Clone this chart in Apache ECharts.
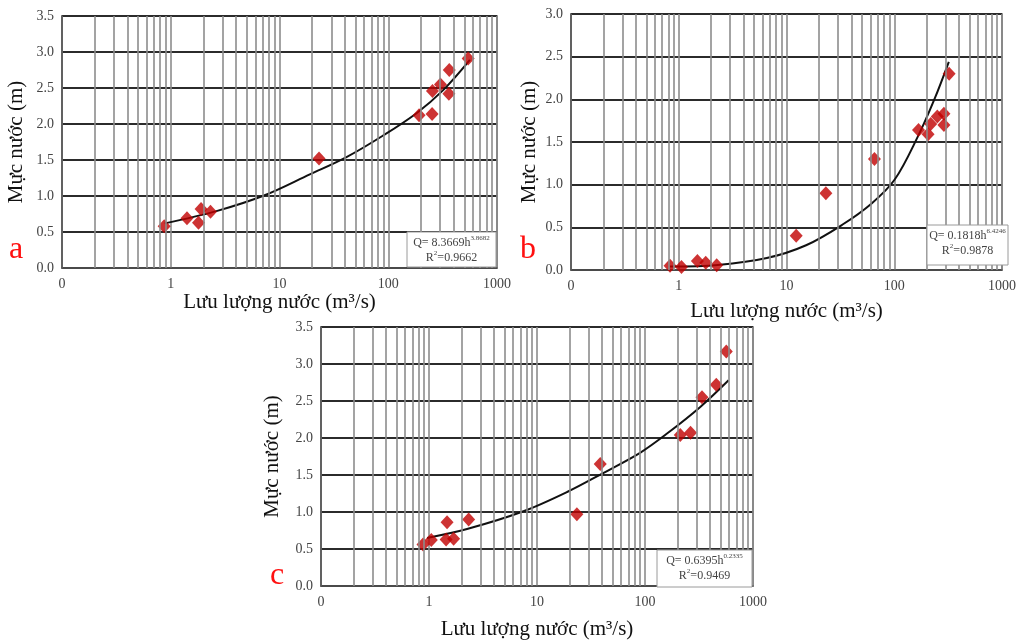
<!DOCTYPE html>
<html>
<head>
<meta charset="utf-8">
<script src="https://cdn.jsdelivr.net/npm/echarts@6/dist/echarts.min.js"></script>
<style>
  html, body { margin: 0; padding: 0; background: #ffffff; }
  #chart { width: 1019px; height: 641px; }
</style>
</head>
<body>
<div id="chart"></div>
<script>
// Rating curves: water level (m) against discharge (m3/s) at three stations

// Station a
const flowA  = [0.87, 1.41, 1.80, 1.90, 2.32, 23.1, 192, 253, 255, 302, 361, 364, 543];
const levelA = [0.58, 0.69, 0.63, 0.82, 0.78, 1.52, 2.12, 2.14, 2.46, 2.55, 2.42, 2.75, 2.91];
const fitFlowA  = [0.88, 2.63, 7.3, 19.0, 41.3, 89.8, 182, 320, 563];
const fitLevelA = [0.62, 0.79, 1.01, 1.30, 1.54, 1.84, 2.15, 2.47, 2.89];

// Station b
const flowB  = [0.83, 1.06, 1.49, 1.78, 2.25, 12.3, 23.2, 65.5, 168, 206, 218, 251, 289, 289, 323];
const levelB = [0.05, 0.035, 0.105, 0.086, 0.055, 0.40, 0.90, 1.30, 1.64, 1.59, 1.71, 1.80, 1.83, 1.70, 2.30];
const fitFlowB  = [0.83, 2.3, 6.57, 15.2, 32.9, 61.7, 101, 165, 234, 321];
const fitLevelB = [0.04, 0.06, 0.14, 0.29, 0.53, 0.78, 1.06, 1.56, 1.99, 2.44];

// Station c
const flowC  = [0.88, 1.05, 1.44, 1.47, 1.69, 2.33, 23.4, 38.5, 212, 264, 337, 457, 566];
const levelC = [0.56, 0.62, 0.63, 0.86, 0.64, 0.90, 0.97, 1.65, 2.04, 2.07, 2.55, 2.72, 3.17];
const fitFlowC  = [0.96, 2.25, 7.5, 19, 41.4, 90, 160, 325, 594];
const fitLevelC = [0.65, 0.77, 1.01, 1.27, 1.53, 1.80, 2.06, 2.42, 2.78];

// Fit statements shown in each panel
const fitTextA = { coef: '8.3669', exp: '3.8682', r2: '0.9662' };
const fitTextB = { coef: '0.1818', exp: '6.4246', r2: '0.9878' };
const fitTextC = { coef: '0.6395', exp: '0.2335', r2: '0.9469' };

// Log-axis minor grid values (2..9 within each decade)
const minorFlow = [];
[0.1, 1, 10, 100].forEach(d => { for (let k = 2; k <= 9; k++) minorFlow.push(+(d * k).toPrecision(3)); });

const xTitle = 'Lưu lượng nước (m³/s)';
const yTitle = 'Mực nước (m)';
const SERIF = '"Liberation Serif", "DejaVu Serif", serif';

const panels = [
  { flow: flowA, level: levelA, fitQ: fitFlowA, fitH: fitLevelA, yMax: 3.5,
    rect: { left: 62, top: 16, width: 435, height: 252 }, yGap: 35, xGap: 18 },
  { flow: flowB, level: levelB, fitQ: fitFlowB, fitH: fitLevelB, yMax: 3.0,
    rect: { left: 571, top: 14, width: 438, height: 256 }, yGap: 31, xGap: 31 },
  { flow: flowC, level: levelC, fitQ: fitFlowC, fitH: fitLevelC, yMax: 3.5,
    rect: { left: 321, top: 327, width: 432, height: 260 }, yGap: 38, xGap: 33 }
];

const grid = [], xAxis = [], yAxis = [], series = [];
panels.forEach((p, i) => {
  grid.push(Object.assign({ show: true, borderColor: '#555', borderWidth: 1.5, containLabel: false }, p.rect));
  xAxis.push({
    type: 'log', logBase: 10, min: 0.1, max: 1000, gridIndex: i,
    name: xTitle, nameLocation: 'middle', nameGap: p.xGap,
    nameTextStyle: { fontFamily: SERIF, fontSize: 21, color: '#111' },
    axisLine: { show: true, lineStyle: { color: '#555', width: 1.5 } },
    axisTick: { show: false },
    axisLabel: { fontFamily: SERIF, fontSize: 14, color: '#444', margin: 9,
      formatter: v => (v < 0.5 ? '0' : String(Math.round(v))) },
    splitLine: { show: true, lineStyle: { color: '#8c8c8c', width: 1.6 } }
  });
  yAxis.push({
    type: 'value', min: 0, max: p.yMax, interval: 0.5, gridIndex: i,
    name: yTitle, nameLocation: 'middle', nameGap: p.yGap, nameRotate: 90,
    nameTextStyle: { fontFamily: SERIF, fontSize: 21, color: '#111' },
    axisLine: { show: true, lineStyle: { color: '#555', width: 1.5 } },
    axisTick: { show: false },
    axisLabel: { fontFamily: SERIF, fontSize: 14, color: '#444', margin: 8,
      formatter: v => v.toFixed(1) },
    splitLine: { show: true, lineStyle: { color: '#2b2b2b', width: 2 } }
  });
  // minor vertical grid lines
  series.push({
    type: 'scatter', xAxisIndex: i, yAxisIndex: i, data: [], z: 1, silent: true,
    markLine: {
      silent: true, symbol: ['none', 'none'], animation: false,
      label: { show: false },
      lineStyle: { color: '#8c8c8c', width: 1.6, type: 'solid' },
      emphasis: { disabled: true },
      data: minorFlow.map(v => ({ xAxis: v }))
    }
  });
  // fitted curve
  series.push({
    type: 'line', xAxisIndex: i, yAxisIndex: i, z: 3, smooth: 0.35,
    showSymbol: false, symbol: 'none', silent: true,
    lineStyle: { color: '#111', width: 2 },
    data: p.fitQ.map((q, k) => [q, p.fitH[k]])
  });
  // observed values
  series.push({
    type: 'scatter', xAxisIndex: i, yAxisIndex: i, z: 4,
    symbol: 'diamond', symbolSize: [13, 14],
    itemStyle: { color: '#c00000' },
    data: p.flow.map((q, k) => [q, p.level[k]])
  });
});

function fitBox(x, y, w, h, t) {
  return [
    { type: 'rect', z: 100, zlevel: 1, shape: { x: x, y: y, width: w, height: h },
      style: { fill: '#ffffff', stroke: '#9a9a9a', lineWidth: 1 } },
    { type: 'text', z: 101, zlevel: 1, x: x + w / 2, y: y + 3,
      style: {
        text: '{n|Q= ' + t.coef + 'h}{s|' + t.exp + '}\n{n|R}{s|2}{n|=' + t.r2 + '}',
        align: 'center', verticalAlign: 'top',
        rich: {
          n: { fontFamily: SERIF, fontSize: 12, fill: '#444', lineHeight: 15 },
          s: { fontFamily: SERIF, fontSize: 7, fill: '#444', lineHeight: 15, verticalAlign: 'top', padding: [0, 0, 6, 0] }
        }
      } }
  ];
}

function panelLetter(x, y, s) {
  return { type: 'text', x: x, y: y, z: 100, zlevel: 1,
    style: { text: s, fontFamily: SERIF, fontSize: 32, fill: '#ff1010', align: 'center', verticalAlign: 'middle' } };
}

const chart = echarts.init(document.getElementById('chart'), null, { renderer: 'canvas' });
chart.setOption({
  backgroundColor: '#ffffff',
  animation: false,
  grid: grid, xAxis: xAxis, yAxis: yAxis, series: series,
  graphic: [].concat(
    fitBox(407, 232, 89, 35, fitTextA),
    fitBox(927, 225, 81, 40, fitTextB),
    fitBox(657, 550, 95, 37, fitTextC),
    [panelLetter(16, 250, 'a'), panelLetter(528, 250, 'b'), panelLetter(277, 576, 'c')]
  )
});
</script>
</body>
</html>
